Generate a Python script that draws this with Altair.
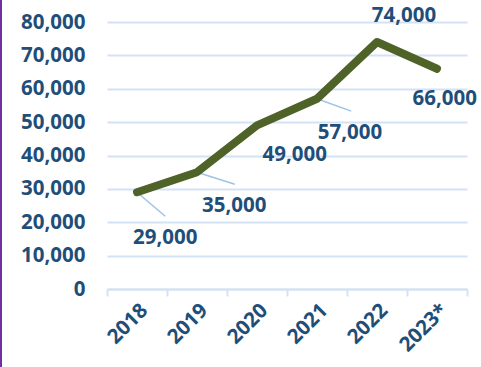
import altair as alt
import pandas as pd

# ---- data ----
YEARS = ["2018", "2019", "2020", "2021", "2022", "2023*"]
VALUES = [29000, 35000, 49000, 57000, 74000, 66000]
LABELS = ["29,000", "35,000", "49,000", "57,000", "74,000", "66,000"]
Y_TICKS = [0, 10000, 20000, 30000, 40000, 50000, 60000, 70000, 80000]

# ---- label layout (offsets in category units / value units) ----
LABEL_DX = [0.47, 0.62, 0.63, 0.55, 0.45, 0.13]
LABEL_Y = [15200, 24800, 40100, 46700, 81800, 56900]
HAS_LEADER = [True, True, False, True, False, False]
LEADER_DX = [0.47, 0.63, 0.0, 0.57, 0.0, 0.0]
LEADER_Y = [21800, 31400, 0, 53300, 0, 0]

TEXT = "#1F4E79"
LINE = "#4F6228"
GRID = "#D3E2F4"
LEADER = "#9DC3E6"
FONT = "Open Sans"
FS = 20.5

df = pd.DataFrame({
    "year": YEARS,
    "value": VALUES,
    "idx": list(range(len(YEARS))),
    "label": LABELS,
    "lx": [i + d for i, d in enumerate(LABEL_DX)],
    "ly": LABEL_Y,
})
lead = pd.DataFrame({
    "idx": [i for i, h in enumerate(HAS_LEADER) if h],
    "value": [v for v, h in zip(VALUES, HAS_LEADER) if h],
    "ex": [i + d for i, (d, h) in enumerate(zip(LEADER_DX, HAS_LEADER)) if h],
    "ey": [y for y, h in zip(LEADER_Y, HAS_LEADER) if h],
})

yscale = alt.Scale(domain=[0, 80000], nice=False, zero=True)
yaxis = alt.Axis(values=Y_TICKS, labelExpr="format(datum.value, ',')", labelFont=FONT,
                 labelFontSize=FS, labelFontWeight="bold", labelColor=TEXT,
                 domain=False, ticks=False, tickSize=0, labelPadding=22,
                 gridColor=GRID, gridWidth=2, grid=True)
qx = alt.Scale(domain=[-0.5, len(YEARS) - 0.5], nice=False, zero=False)

line = alt.Chart(df).mark_line(color=LINE, strokeWidth=8, strokeCap="round", strokeJoin="round").encode(
    x=alt.X("year:N", sort=YEARS, title=None,
            scale=alt.Scale(type="band", paddingInner=0, paddingOuter=0),
            axis=alt.Axis(tickBand="extent", labelAngle=-45, labelFont=FONT, labelFontSize=FS,
                          labelFontWeight="bold", labelColor=TEXT, domainColor=GRID, domainWidth=2,
                          tickColor=GRID, tickWidth=2, tickSize=7, labelPadding=4, grid=False)),
    y=alt.Y("value:Q", scale=yscale, title=None, axis=yaxis),
)

leaders = alt.Chart(lead).mark_rule(color=LEADER, strokeWidth=1.5).encode(
    x=alt.X("idx:Q", scale=qx, axis=None),
    y=alt.Y("value:Q", scale=yscale, title=None, axis=yaxis),
    x2="ex:Q",
    y2="ey:Q",
)

labels = alt.Chart(df).mark_text(font=FONT, fontSize=FS, fontWeight="bold", color=TEXT,
                                 baseline="middle", align="center").encode(
    x=alt.X("lx:Q", scale=qx, axis=None),
    y=alt.Y("ly:Q", scale=yscale, title=None, axis=yaxis),
    text="label:N",
)

border = alt.Chart(pd.DataFrame({"a": [0]})).mark_rule(color="#7030A0", strokeWidth=2).encode(
    x=alt.value(-106), y=alt.value(-22), y2=alt.value(345)
)

chart = alt.layer(alt.layer(leaders, labels, border), line).resolve_scale(x="independent").properties(
    width=360, height=267,
    autosize=alt.AutoSizeParams(type="none"),
    padding={"left": 107, "top": 22, "right": 14, "bottom": 78},
).configure_view(stroke=None)

chart.save("out.html", embed_options={"renderer": "svg", "actions": False})
